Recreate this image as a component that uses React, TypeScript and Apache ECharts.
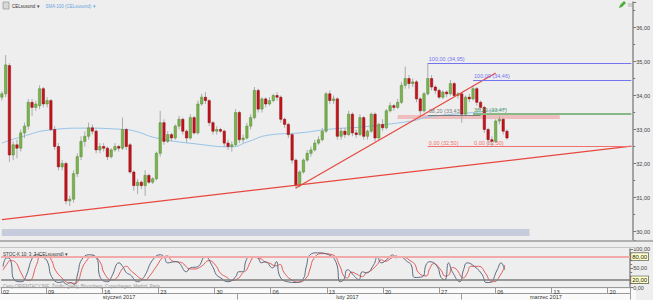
import React, { useEffect, useRef } from 'react';
import * as echarts from 'echarts';

const instrument = 'CELsusond';
const firstDay = '2017-01-02';
const lastDay = '2017-03-21';
const holidays = ['2017-01-06'];
const slotsPerDay = 3;
const monthNames = ['styczeń 2017', 'luty 2017', 'marzec 2017'];

// [open, close, low, high]
const candles: number[][] = [
  [33.95, 34.05, 33.85, 34.12], [34.05, 34.9, 33.95, 35.19], [34.88, 32.25, 32.05, 34.95], [32.25, 32.55, 32.1, 32.65],
  [32.55, 32.45, 32.15, 32.7], [32.45, 32.9, 32.35, 33.0], [32.9, 33.1, 32.75, 33.2], [33.1, 33.8, 33.0, 33.9],
  [33.8, 33.65, 33.4, 33.9], [33.65, 33.75, 33.55, 33.85], [33.7, 34.2, 33.6, 34.3], [34.2, 33.75, 33.65, 34.25],
  [33.75, 33.85, 33.65, 33.95], [33.85, 33.0, 32.95, 33.9], [33.0, 32.5, 32.4, 33.1], [32.5, 31.9, 31.8, 32.6],
  [31.9, 32.0, 31.8, 32.1], [32.0, 30.9, 30.8, 32.05], [30.9, 30.95, 30.75, 31.05], [30.95, 31.7, 30.85, 31.8],
  [31.7, 32.2, 31.6, 32.3], [32.2, 32.65, 32.1, 32.8], [32.65, 32.8, 32.5, 32.95], [32.8, 33.05, 32.7, 33.2],
  [33.05, 32.95, 32.85, 33.15], [32.95, 32.4, 32.3, 33.0], [32.4, 32.5, 32.3, 32.6], [32.5, 32.45, 32.35, 32.6],
  [32.45, 32.2, 32.1, 32.5], [32.2, 32.4, 32.15, 32.45], [32.4, 32.5, 32.35, 32.6], [32.5, 32.45, 32.35, 32.55],
  [32.45, 33.0, 32.4, 33.35], [33.0, 32.5, 32.4, 33.05], [32.55, 31.75, 31.7, 32.6], [31.75, 31.35, 31.2, 31.8],
  [31.35, 31.45, 31.1, 31.55], [31.45, 31.35, 31.25, 31.5], [31.35, 31.65, 31.05, 31.8], [31.65, 31.45, 31.4, 31.7],
  [31.45, 31.55, 31.4, 31.6], [31.55, 32.3, 31.5, 32.35], [32.3, 33.2, 32.2, 33.55], [33.2, 32.65, 32.55, 33.3],
  [32.65, 32.85, 32.6, 32.95], [32.85, 32.75, 32.65, 32.9], [32.75, 33.1, 32.7, 33.15], [33.1, 33.3, 33.0, 33.4],
  [33.3, 32.95, 32.85, 33.35], [32.95, 32.75, 32.6, 33.0], [32.75, 33.35, 32.7, 33.45], [33.35, 32.9, 32.85, 33.4],
  [32.9, 33.75, 32.85, 33.85], [33.75, 33.95, 33.7, 34.05], [33.95, 33.85, 33.75, 34.1], [33.85, 33.2, 33.1, 33.9],
  [33.2, 32.95, 32.85, 33.25], [32.95, 33.0, 32.85, 33.1], [33.0, 32.95, 32.9, 33.05], [32.95, 32.6, 32.5, 33.0],
  [32.6, 32.5, 32.4, 32.7], [32.5, 32.55, 32.35, 32.65], [32.55, 33.5, 32.5, 33.6], [33.5, 32.7, 32.6, 33.55],
  [32.7, 32.75, 32.6, 32.85], [32.75, 33.1, 32.7, 33.2], [33.1, 33.35, 33.0, 33.45], [33.35, 34.15, 33.3, 34.25],
  [34.15, 33.6, 33.5, 34.2], [33.6, 33.9, 33.5, 33.95], [33.9, 33.75, 33.65, 33.95], [33.75, 33.85, 33.7, 33.95],
  [33.85, 34.0, 33.8, 34.05], [34.0, 33.95, 33.85, 34.1], [33.95, 33.3, 33.2, 34.0], [33.3, 33.15, 33.05, 33.35],
  [33.15, 32.85, 32.75, 33.2], [32.85, 32.1, 32.0, 32.9], [32.1, 31.35, 31.25, 32.15], [31.35, 31.75, 31.3, 31.8],
  [31.75, 32.1, 31.7, 32.15], [32.1, 32.3, 32.05, 32.4], [32.3, 32.4, 32.2, 32.5], [32.4, 32.6, 32.35, 32.7],
  [32.6, 32.7, 32.55, 32.8], [32.7, 32.95, 32.65, 33.05], [32.95, 34.05, 32.9, 34.1], [34.05, 33.85, 33.75, 34.15],
  [33.85, 33.9, 33.75, 34.0], [33.9, 32.8, 32.7, 33.95], [32.8, 32.95, 32.7, 33.05], [32.95, 32.85, 32.75, 33.05],
  [32.85, 33.45, 32.8, 33.55], [33.45, 32.9, 32.8, 33.5], [32.9, 32.85, 32.75, 33.0], [32.85, 33.35, 32.8, 33.45],
  [33.35, 32.8, 32.7, 33.4], [32.8, 32.95, 32.7, 33.0], [32.95, 33.45, 32.9, 33.5], [33.45, 32.75, 32.65, 33.5],
  [32.75, 33.15, 32.7, 33.2], [33.15, 33.05, 32.95, 33.3], [33.05, 33.55, 33.0, 33.6], [33.55, 33.7, 33.5, 33.8],
  [33.7, 33.65, 33.55, 33.75], [33.65, 33.8, 33.6, 33.9], [33.8, 34.3, 33.75, 34.4], [34.3, 34.5, 34.2, 34.85],
  [34.5, 34.35, 34.2, 34.6], [34.35, 34.4, 34.25, 34.5], [34.4, 33.9, 33.8, 34.45], [33.9, 33.55, 33.4, 33.95],
  [33.55, 34.05, 33.5, 34.1], [34.05, 34.5, 34.0, 34.95], [34.5, 34.25, 34.15, 34.6], [34.25, 34.15, 34.05, 34.3],
  [34.15, 33.95, 33.9, 34.2], [33.95, 34.1, 33.9, 34.15], [34.1, 34.05, 33.95, 34.15], [34.05, 34.35, 34.0, 34.46],
  [34.35, 34.0, 33.95, 34.4], [34.0, 34.05, 33.9, 34.1], [34.05, 33.45, 33.2, 34.1], [33.45, 33.95, 33.4, 34.0],
  [33.95, 33.9, 33.8, 34.05], [33.9, 34.2, 33.85, 34.3], [34.2, 33.8, 33.7, 34.25], [33.8, 33.65, 33.55, 33.85],
  [33.65, 33.0, 32.9, 33.7], [33.0, 32.7, 32.55, 33.05], [32.7, 32.65, 32.5, 32.8], [32.65, 33.25, 32.6, 33.3],
  [33.25, 33.3, 33.15, 33.4], [33.3, 32.95, 32.85, 33.35], [32.95, 32.75, 32.7, 33.0],
];

// SMA 100 readings: [slot index, value]
const smaPoints: number[][] = [
  [0, 32.6], [5, 32.78], [13, 32.99], [22, 33.04], [31, 33.01], [35, 32.96], [41, 32.75], [52, 32.57],
  [61, 32.49], [65, 32.63], [71, 32.84], [79, 32.9], [87, 33.01], [95, 33.07], [105, 33.19], [110, 33.28],
  [113, 33.37], [126, 33.51], [134, 33.6],
];

// Stochastic %K and %D readings: [slot index, value]
const stochK: number[][] = [
  [0, 54], [1, 77], [2, 72], [3, 20], [5, 15], [6, 26], [8, 80], [9, 85], [11, 77], [12, 64], [13, 28], [15, 13],
  [16, 15], [17, 8], [18, 13], [19, 8], [20, 38], [21, 72], [23, 85], [25, 77], [26, 26], [28, 15], [29, 28],
  [31, 64], [32, 54], [33, 38], [34, 33], [36, 15], [37, 20], [38, 33], [40, 72], [42, 85], [43, 80], [44, 64],
  [46, 67], [47, 64], [49, 41], [50, 51], [52, 54], [54, 80], [56, 54], [57, 33], [58, 26], [60, 15], [62, 26],
  [63, 41], [64, 41], [65, 72], [66, 80], [68, 77], [69, 64], [70, 67], [72, 51], [73, 67], [74, 28], [76, 15],
  [78, 13], [80, 20], [81, 54], [82, 85], [84, 90], [87, 85], [89, 64], [90, 15], [91, 20], [92, 46], [94, 28],
  [95, 20], [96, 41], [97, 38], [99, 59], [100, 80], [101, 64], [103, 77], [104, 85], [105, 77], [106, 80],
  [108, 67], [109, 59], [110, 26], [112, 28], [113, 59], [114, 67], [116, 54], [117, 26], [118, 20], [119, 64],
  [120, 41], [122, 15], [123, 46], [124, 64], [126, 54], [128, 33], [129, 13], [130, 13], [132, 46], [133, 64],
  [134, 46],
];
const stochD: number[][] = [
  [0, 45], [1, 60], [2, 70], [3, 68], [5, 35], [6, 20], [7, 18], [9, 60], [10, 80], [12, 80], [13, 70], [14, 45],
  [16, 22], [17, 14], [18, 12], [19, 11], [20, 15], [21, 45], [22, 65], [24, 82], [26, 65], [27, 38], [29, 20],
  [30, 22], [32, 50], [33, 55], [34, 45], [35, 37], [37, 22], [38, 20], [39, 28], [41, 55], [43, 80], [44, 82],
  [45, 70], [47, 66], [48, 63], [50, 48], [51, 48], [53, 55], [55, 70], [57, 55], [58, 38], [60, 25], [61, 18],
  [63, 25], [64, 38], [65, 45], [66, 65], [67, 78], [69, 74], [70, 66], [71, 64], [73, 56], [74, 60], [75, 40],
  [77, 20], [79, 14], [81, 25], [82, 48], [83, 75], [85, 88], [88, 85], [90, 55], [91, 30], [92, 25], [93, 40],
  [95, 32], [96, 28], [97, 38], [98, 42], [100, 60], [101, 72], [102, 68], [104, 78], [105, 82], [106, 78],
  [107, 78], [109, 68], [110, 60], [111, 38], [113, 30], [114, 50], [115, 62], [117, 45], [118, 30], [119, 32],
  [120, 52], [121, 48], [123, 25], [124, 38], [125, 55], [127, 55], [129, 35], [130, 18], [131, 15], [133, 35],
  [134, 58],
];

const lastPrice = 32.75;
const fibLevels = [
  { from: 113, to: 167, value: 34.95, label: '100,00 (34,95)', color: '#7474ee', width: 1 },
  { from: 125, to: 167, value: 34.46, label: '100,00 (34,46)', color: '#7474ee', width: 1 },
  { from: 113, to: 127, value: 33.43, label: '38,20 (33,43)', color: '#7d7d7d', width: 1 },
  { from: 125, to: 167, value: 33.47, label: '38,20 (33,47)', color: '#86b986', width: 2 },
  { from: 113, to: 167, value: 32.5, label: '0,00 (32,50)', color: '#f07070', width: 1 },
  { from: 125, to: 167, value: 32.5, label: '0,00 (32,50)', color: '#f07070', width: 1 },
];
const trendLines = [
  [[0, 30.35], [167, 32.51]],
  [[78, 31.28], [131, 34.66]],
];
const zones = [
  { from: [105, 33.43], to: [148, 33.31], color: 'rgba(238,165,165,0.65)' },
  { from: [0, 30.07], to: [140, 29.87], color: '#c7ccdc' },
];

const FONT = 'Liberation Sans';
const fmt = (v: number) => v.toFixed(2).replace('.', ',');

function buildDays(): string[] {
  const out: string[] = [];
  const [y0, m0, d0] = firstDay.split('-').map(Number);
  const [y1, m1, d1] = lastDay.split('-').map(Number);
  const d = new Date(Date.UTC(y0, m0 - 1, d0));
  const end = Date.UTC(y1, m1 - 1, d1);
  while (d.getTime() <= end) {
    const dow = d.getUTCDay();
    const iso = d.toISOString().slice(0, 10);
    if (dow !== 0 && dow !== 6 && !holidays.includes(iso)) out.push(iso);
    d.setUTCDate(d.getUTCDate() + 1);
  }
  return out;
}

function textWidth(txt: string, size: number): number {
  const c = document.createElement('canvas').getContext('2d');
  if (!c) return txt.length * size * 0.55;
  c.font = size + 'px "' + FONT + '"';
  return c.measureText(txt).width;
}

export default function App() {
  const ref = useRef<HTMLDivElement>(null);
  useEffect(() => {
    if (!ref.current) return;
    const chart = echarts.init(ref.current, undefined, { renderer: 'svg' });
    const days = buildDays();
    const cats: string[] = [];
    days.forEach((d) => { for (let k = 0; k < slotsPerDay; k++) cats.push(d + ' ' + k); });
    const isWeekStart = (idx: number) => {
      const v = cats[idx];
      if (!v || !v.endsWith(' 0')) return false;
      if (idx === 0) return true;
      const dt = new Date(v.slice(0, 10) + 'T00:00:00Z');
      return dt.getUTCDay() === 1;
    };
    const monthFirst: Record<string, number> = {};
    const monthLast: Record<string, number> = {};
    cats.forEach((c, i) => {
      const m = c.slice(0, 7);
      if (monthFirst[m] === undefined) monthFirst[m] = i;
      monthLast[m] = i;
    });
    const monthKeys = Object.keys(monthFirst);
    const monthMid: Record<number, string> = {};
    const monthStart: Record<number, boolean> = {};
    monthKeys.forEach((m, k) => {
      monthMid[Math.floor((monthFirst[m] + monthLast[m]) / 2)] = monthNames[k];
      if (monthFirst[m] > 0) monthStart[monthFirst[m]] = true;
    });

    const lastIdx = cats.length - 1;
    const markLineData: any[] = [];
    trendLines.forEach((t) => {
      markLineData.push([
        { coord: t[0], lineStyle: { color: '#e8473f', width: 1.2, type: 'solid' }, label: { show: false } },
        { coord: t[1] },
      ]);
    });
    fibLevels.forEach((f) => {
      markLineData.push([
        {
          coord: [f.from, f.value],
          lineStyle: { color: f.color, width: f.width, type: 'solid' },
          label: {
            show: true, position: 'insideStartTop', formatter: f.label, color: f.color === '#86b986' ? '#5a9a5a' : f.color,
            fontSize: 5.5, fontFamily: FONT, distance: 1,
          },
        },
        { coord: [Math.min(f.to, lastIdx), f.value] },
      ]);
    });
    markLineData.push({
      yAxis: lastPrice,
      lineStyle: { opacity: 0 },
      label: {
        show: true, position: 'end', formatter: fmt(lastPrice), fontSize: 6, fontFamily: FONT, color: '#222',
        backgroundColor: '#ffffc8', borderColor: '#444', borderWidth: 0.6, padding: [1, 1, 0, 1], distance: 1,
      },
    });

    const boxLabel = (txt: string) => ({
      show: true, position: 'end', formatter: txt, fontSize: 6, fontFamily: FONT, color: '#222',
      backgroundColor: '#ffffc8', borderColor: '#444', borderWidth: 0.6, padding: [1, 1, 0, 1], distance: 1,
    });

    const HS = 4.5;
    const t1 = instrument + ' ▾';
    const t2 = 'SMA 100 (' + instrument + ') ▾';
    const t3 = 'STOC-K 10; 3; 3 (' + instrument + ') ▾';
    const x2 = 12 + textWidth(t1, HS) + 6;

    const option: any = {
      animation: false,
      backgroundColor: '#eeeeee',
      textStyle: { fontFamily: FONT },
      grid: [
        { left: 0, right: 17, top: 2, height: 238 },
        { left: 0, right: 17, top: 249, height: 39 },
      ],
      xAxis: [
        { type: 'category', gridIndex: 0, data: cats, boundaryGap: true, show: false },
        {
          type: 'category', gridIndex: 1, data: cats, boundaryGap: true, position: 'bottom',
          axisLine: { show: true, lineStyle: { color: '#9a9a9a', width: 1 } },
          axisTick: { show: true, interval: (i: number) => isWeekStart(i), length: 6, lineStyle: { color: '#9a9a9a' } },
          axisLabel: {
            interval: (i: number) => isWeekStart(i), formatter: (v: string) => v.slice(8, 10),
            align: 'left', fontSize: 5.5, color: '#333', margin: 1, fontFamily: FONT,
          },
          splitLine: { show: false },
        },
        {
          type: 'category', gridIndex: 1, data: cats, boundaryGap: true, position: 'bottom', offset: 6,
          axisLine: { show: true, lineStyle: { color: '#9a9a9a', width: 1 } },
          axisTick: { show: true, interval: (i: number) => !!monthStart[i], length: 6, lineStyle: { color: '#9a9a9a' } },
          axisLabel: {
            interval: (i: number) => monthMid[i] !== undefined, formatter: (_v: string, i: number) => monthMid[i] || '',
            fontSize: 5.5, color: '#333', margin: 0.5, fontFamily: FONT,
          },
        },
      ],
      yAxis: [
        {
          type: 'value', gridIndex: 0, position: 'right', min: 29.75, max: 36.75, splitNumber: 7, scale: true,
          axisLine: { show: true, lineStyle: { color: '#8a8a8a', width: 1.5 } },
          axisTick: { show: true, length: 3, lineStyle: { color: '#777' } },
          minorTick: { show: true, splitNumber: 2, length: 2, lineStyle: { color: '#777' } },
          splitLine: { show: false },
          axisLabel: { formatter: fmt, fontSize: 5.5, color: '#444', margin: 3, showMinLabel: false, showMaxLabel: false, fontFamily: FONT },
        },
        {
          type: 'value', gridIndex: 1, position: 'right', min: 0, max: 100, interval: 50,
          axisLine: { show: true, lineStyle: { color: '#8a8a8a', width: 1.5 } },
          axisTick: { show: true, length: 3, lineStyle: { color: '#777' } },
          minorTick: { show: true, splitNumber: 5, length: 2, lineStyle: { color: '#777' } },
          splitLine: { show: false },
          axisLabel: { formatter: fmt, fontSize: 5.5, color: '#444', margin: 3, fontFamily: FONT },
        },
      ],
      series: [
        {
          type: 'custom', name: 'candles', xAxisIndex: 0, yAxisIndex: 0, clip: true,
          data: candles.map((c, i) => [i, c[0], c[1], c[2], c[3]]),
          encode: { x: 0, y: [1, 2, 3, 4] },
          renderItem: (_p: any, api: any) => {
            const idx = api.value(0);
            const o = api.value(1), c = api.value(2), l = api.value(3), h = api.value(4);
            const pO = api.coord([idx, o]);
            const pC = api.coord([idx, c]);
            const pL = api.coord([idx, l]);
            const pH = api.coord([idx, h]);
            const w = 2.4;
            const up = c >= o;
            const top = Math.min(pO[1], pC[1]);
            const hh = Math.max(Math.abs(pO[1] - pC[1]), 1);
            return {
              type: 'group',
              children: [
                { type: 'line', shape: { x1: pH[0], y1: pH[1], x2: pL[0], y2: pL[1] }, style: { stroke: '#ababab', lineWidth: 1 } },
                {
                  type: 'rect', shape: { x: pO[0] - w / 2, y: top, width: w, height: hh },
                  style: { fill: up ? '#7cb24f' : '#c4141c', stroke: up ? '#4f8a2c' : '#8c0a10', lineWidth: 0.5 },
                },
              ],
            };
          },
          z: 3,
        },
        {
          type: 'line', name: 'SMA 100', xAxisIndex: 0, yAxisIndex: 0, data: smaPoints, smooth: true,
          symbol: 'none', lineStyle: { color: '#94c3e8', width: 1 }, z: 2,
          markArea: {
            silent: true,
            data: zones.map((zn) => [
              { coord: zn.from, itemStyle: { color: zn.color } },
              { coord: zn.to },
            ]),
          },
          markLine: { silent: true, symbol: ['none', 'none'], data: markLineData },
        },
        {
          type: 'line', name: '%D', xAxisIndex: 1, yAxisIndex: 1, data: stochD, smooth: true,
          symbol: 'none', lineStyle: { color: '#e35c5c', width: 1 }, z: 3,
          markLine: {
            silent: true, symbol: ['none', 'none'],
            data: [
              { yAxis: 80, lineStyle: { color: '#f1a9a9', width: 2, type: 'solid' }, label: boxLabel('80,00') },
              { yAxis: 20, lineStyle: { color: '#7b7b7b', width: 1.5, type: 'solid' }, label: boxLabel('20,00') },
            ],
          },
        },
        {
          type: 'line', name: '%K', xAxisIndex: 1, yAxisIndex: 1, data: stochK, smooth: true,
          symbol: 'none', lineStyle: { color: '#5d6b80', width: 1 }, z: 4,
        },
      ],
      graphic: [
        { type: 'rect', z: -1, silent: true, shape: { x: 0, y: 289, width: 636, height: 11 }, style: { fill: '#fafafa' } },
        { type: 'line', z: 5, silent: true, shape: { x1: 0, y1: 241, x2: 653, y2: 241 }, style: { stroke: '#9c9c9c', lineWidth: 1.5 } },
        { type: 'line', z: 5, silent: true, shape: { x1: 0, y1: 247.5, x2: 636, y2: 247.5 }, style: { stroke: '#c4c4c4', lineWidth: 1 } },
        { type: 'rect', z: 5, silent: true, shape: { x: 3, y: 2, width: 6, height: 7 }, style: { fill: '#d8d8d8', stroke: '#888', lineWidth: 0.6 } },
        { type: 'text', z: 5, silent: true, x: 12, y: 3.5, style: { text: t1, fontSize: HS, fontFamily: FONT, fill: '#333' } },
        { type: 'text', z: 5, silent: true, x: x2, y: 3.5, style: { text: t2, fontSize: HS, fontFamily: FONT, fill: '#6aa6de' } },
        { type: 'text', z: 5, silent: true, x: 3, y: 251.5, style: { text: t3, fontSize: HS, fontFamily: FONT, fill: '#333' } },
        { type: 'text', z: 5, silent: true, x: 3, y: 284, style: { text: 'Ceny ORIENTACYJNE. Źródło: giełdy, Bloomberg, Copenhagen, Madrid, Paris', fontSize: 4.5, fontFamily: FONT, fill: '#9a9a9a' } },
        { type: 'polygon', z: 5, silent: true, shape: { points: [[619, 8], [620, 5], [624, 1], [626, 3], [622, 7]] }, style: { fill: '#4caf3a' } },
        { type: 'rect', z: 5, silent: true, shape: { x: 628, y: 3, width: 4, height: 4 }, style: { fill: '#d0d0d0' } },
      ],
    };
    chart.setOption(option);
    return () => chart.dispose();
  }, []);
  return <div ref={ref} style={{ position: 'fixed', left: 0, top: 0, width: 653, height: 300 }} />;
}
